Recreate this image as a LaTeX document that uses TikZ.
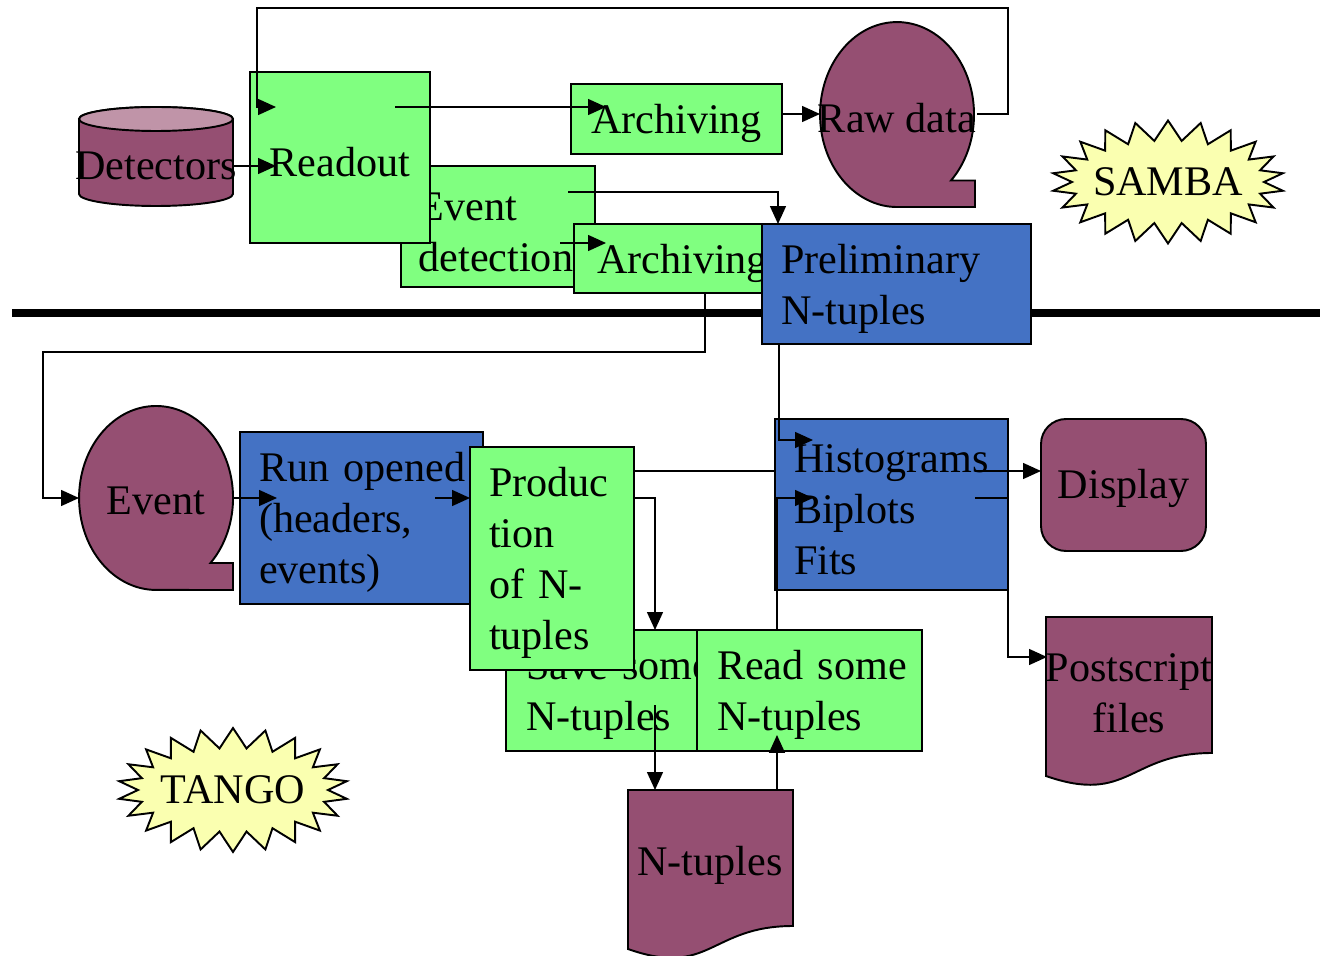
\documentclass[tikz,border=0pt]{standalone}
\usepackage{fontspec}
\setmainfont{Liberation Serif}
\usetikzlibrary{arrows.meta, calc, shapes.symbols}

\definecolor{boxgreen}{RGB}{128,255,128}
\definecolor{boxblue}{RGB}{68,114,196}
\definecolor{plum}{RGB}{149,79,114}
\definecolor{plumtop}{RGB}{192,148,168}
\definecolor{burst}{RGB}{250,255,176}

\tikzset{
	box/.style={draw, line width=1.1pt, rectangle, inner xsep=0.38cm, inner ysep=0pt, align=left,
		execute at begin node={\rule{0pt}{22pt}}},
	greenbox/.style={box, fill=boxgreen},
	bluebox/.style={box, fill=boxblue},
	storage/.style={draw, line width=1.1pt, fill=plum},
	flow/.style={line width=0.85pt, -{Triangle[length=0.36cm, width=0.32cm]}},
	link/.style={line width=0.85pt},
	splash/.style={starburst, draw, line width=1.1pt, fill=burst, random starburst=0,
		starburst points=22, starburst point height=0.4cm}
}

\begin{document}
\begin{tikzpicture}[x=0.02cm, y=-0.02cm, font=\fontsize{24}{29}\selectfont]
	\useasboundingbox (0,0) rectangle (1320,956);

	% separator between the two programs
	\coordinate (sepL) at (12,313);
	\coordinate (sepR) at (1320,313);
	\draw[line width=4pt] (sepL) -- (sepR);

	% SAMBA part
	\coordinate (detc) at (156,119);
	\path[storage] (79,119) -- (79,194) arc[start angle=180, end angle=360, x radius=1.54cm, y radius=0.24cm]
		-- (233,119) arc[start angle=0, end angle=180, x radius=1.54cm, y radius=0.24cm] -- cycle;
	\path[storage, fill=plumtop] (detc) ellipse [x radius=1.54cm, y radius=0.24cm];
	\node (detect) at (156,166) {Detectors};

	\node[greenbox, minimum width=3.88cm, minimum height=2.42cm, text width=3.18cm, inner xsep=0.35cm] (evdet) at (498,226.5) {Event\\detection};
	\node[greenbox, minimum width=3.6cm, minimum height=3.42cm, inner xsep=0pt] (readout) at (340,157.5) {Readout};
	\node[greenbox, minimum width=4.22cm, minimum height=1.4cm, inner xsep=0pt] (arch1) at (676.5,119) {Archiving};
	\node[greenbox, minimum width=3.82cm, minimum height=1.38cm, text width=2.9cm, inner xsep=0.46cm] (arch2) at (669.5,258.5) {Archiving};
	\node[bluebox, minimum width=5.38cm, minimum height=2.4cm, text width=4.62cm] (prelim) at (896.5,284) {Preliminary\\N-tuples};

	\coordinate (rawc) at (897,114.5);
	\path[storage] ($(rawc)+(54,66)$) arc[start angle=-45.5, end angle=270, x radius=1.54cm, y radius=1.85cm]
		-- ($(rawc)+(78,92.5)$) -- ($(rawc)+(78,66)$) -- cycle;
	\node (rawdata) at ($(rawc)+(0,4)$) {Raw data};

	\node[splash, minimum width=4.64cm, minimum height=2.46cm, label={center:SAMBA}] (samba) at (1168,182) {};

	% TANGO part
	\coordinate (eventc) at (156,498);
	\path[storage] ($(eventc)+(54.5,65)$) arc[start angle=-45, end angle=270, x radius=1.54cm, y radius=1.84cm]
		-- ($(eventc)+(77,92)$) -- ($(eventc)+(77,65)$) -- cycle;
	\node (event) at ($(eventc)+(0,3)$) {Event};

	\node[bluebox, minimum width=4.86cm, minimum height=3.44cm, text width=4.1cm] (runopen) at (361.5,518) {Run~opened\\(headers,\\events)};
	\node[greenbox, minimum width=3.82cm, minimum height=2.42cm, text width=3.02cm, inner xsep=0.4cm] (save) at (601.5,690.5) {Save~some\\N-tuples};
	\node[greenbox, minimum width=4.5cm, minimum height=2.42cm, text width=3.7cm, inner xsep=0.4cm] (read) at (809.5,690.5) {Read~some\\N-tuples};
	\node[greenbox, minimum width=3.28cm, minimum height=4.46cm, text width=2.52cm] (prod) at (552,558.5) {Produc\\tion\\of~N-\\tuples};
	\node[bluebox, minimum width=4.66cm, minimum height=3.42cm, text width=3.9cm] (hist) at (891.5,504.5) {Histograms\\Biplots\\Fits};
	\node[storage, rounded corners=0.5cm, minimum width=3.3cm, minimum height=2.64cm] (display) at (1123.5,485) {\rule{0pt}{20pt}Display};

	\path[storage] (1046,617) -- (1212,617) -- (1212,753)
		.. controls (1129,753) and (1129,805) .. (1046,776) -- cycle;
	\node[align=center] (psfiles) at (1129,693) {Postscript\\files};

	\path[storage] (628,790) -- (793,790) -- (793,926)
		.. controls (710,926) and (710,978) .. (628,949) -- cycle;
	\node (ntuples) at (710,865) {N-tuples};

	\node[splash, minimum width=4.6cm, minimum height=2.48cm, label={center:TANGO}] (tango) at (233,790) {};

	% connector ends
	\coordinate (loopR) at (1008,8);
	\coordinate (loopL) at (257,8);
	\coordinate (loopin) at (276,107);
	\coordinate (readin) at (276,166);
	\coordinate (detout) at (233,166);
	\coordinate (readoutA) at (395,107);
	\coordinate (arch1in) at (606,107);
	\coordinate (arch1out) at (782,114);
	\coordinate (rawin) at (820,114);
	\coordinate (rawout) at (977,114);
	\coordinate (evdetA) at (568,192);
	\coordinate (evdetB) at (560,243);
	\coordinate (arch2in) at (606,243);
	\coordinate (arch2out) at (705,293);
	\coordinate (prelimin) at (778,224);
	\coordinate (prelimout) at (779,344);
	\coordinate (bendW) at (43,352);
	\coordinate (eventin) at (79,498);
	\coordinate (eventout) at (233,498);
	\coordinate (runin) at (277,498);
	\coordinate (runout) at (435,498);
	\coordinate (prodin) at (470,498);
	\coordinate (prodA) at (634,471);
	\coordinate (prodB) at (634,498);
	\coordinate (histin) at (775,471);
	\coordinate (histA) at (813,440);
	\coordinate (histB) at (813,498);
	\coordinate (histC) at (975,471);
	\coordinate (histD) at (975,498);
	\coordinate (dispin) at (1041,471);
	\coordinate (psbend) at (1008,657);
	\coordinate (psin) at (1047,657);
	\coordinate (savein) at (655,630);
	\coordinate (saveout) at (655,705);
	\coordinate (ntin) at (655,790);
	\coordinate (ntout) at (777,790);
	\coordinate (readin2) at (777,735);
	\coordinate (readout2) at (777,630);

	% SAMBA flow
	\draw[flow] (rawout) -| (loopR) -- (loopL) |- (loopin);
	\draw[flow] (detout) -- (readin);
	\draw[flow] (readoutA) -- (arch1in);
	\draw[flow] (arch1out) -- (rawin);
	\draw[flow] (evdetA) -| (prelimin);
	\draw[flow] (evdetB) -- (arch2in);
	\draw[flow] (arch2out) |- (bendW) |- (eventin);

	% TANGO flow
	\draw[flow] (prelimout) |- (histA);
	\draw[flow] (eventout) -- (runin);
	\draw[flow] (runout) -- (prodin);
	\draw[link] (prodA) -- (histin);
	\draw[flow] (prodB) -| (savein);
	\draw[flow] (readout2) |- (histB);
	\draw[flow] (histC) -- (dispin);
	\draw[flow] (histD) -| (psbend) -- (psin);
	\draw[flow] (saveout) -- (ntin);
	\draw[flow] (ntout) -- (readin2);
\end{tikzpicture}
\end{document}
